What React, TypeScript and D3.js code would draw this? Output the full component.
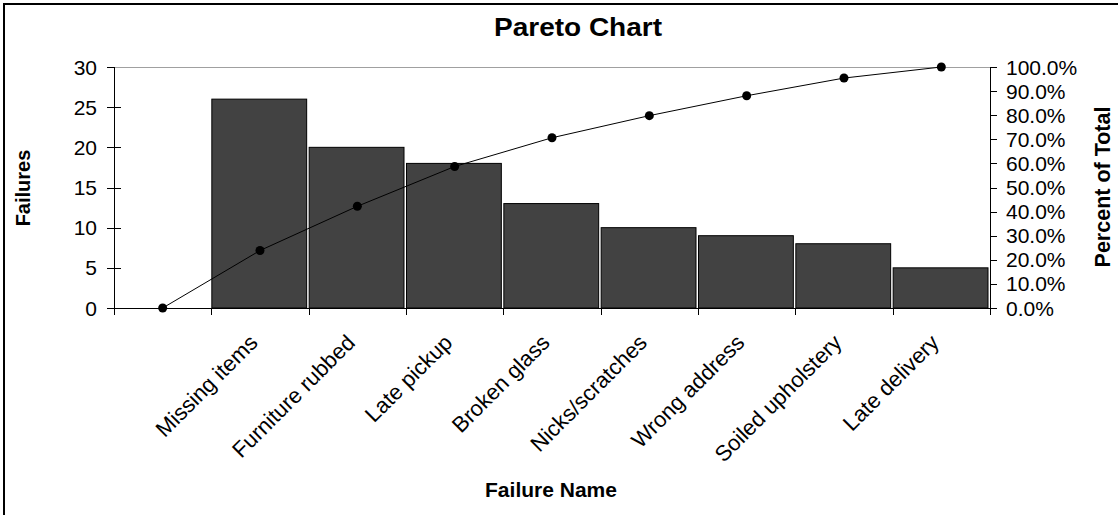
import React from "react";
import * as d3 from "d3";

const categories = ["Missing items", "Furniture rubbed", "Late pickup", "Broken glass", "Nicks/scratches", "Wrong address", "Soiled upholstery", "Late delivery"];
const failures = [26, 20, 18, 13, 10, 9, 8, 5];
const leftTicks = [0, 5, 10, 15, 20, 25, 30];
const rightTicks = [0, 0.1, 0.2, 0.3, 0.4, 0.5, 0.6, 0.7, 0.8, 0.9, 1.0];

const W = 1118, H = 515;
const FONT = "'Liberation Sans', Arial, sans-serif";

export default function App() {
  const domain = ["", ...categories];
  const x = d3.scaleBand<string>().domain(domain).range([114, 990]).padding(0);
  const yL = d3.scaleLinear().domain([0, 30]).range([308, 67]);
  const yR = d3.scaleLinear().domain([0, 1]).range([308, 67]);
  const total = d3.sum(failures);
  const cum = d3.cumsum(failures);
  const pts: [number, number][] = [[x("")! + x.bandwidth() / 2, yR(0)]];
  categories.forEach((c, i) => pts.push([x(c)! + x.bandwidth() / 2, yR(cum[i] / total)]));
  const line = d3.line<[number, number]>().x(d => d[0]).y(d => d[1]);
  const bw = x.bandwidth();
  const boundaries = d3.range(domain.length + 1).map(i => 114 + i * bw);
  const fmt = d3.format(".1%");

  return (
    <div style={{ position: "absolute", left: 0, top: 0 }}>
      <svg width={W} height={H} style={{ display: "block", fontFamily: FONT }}>
        <rect x={0} y={0} width={W} height={H} fill="#fff" />
        <path d={`M4,${H} V4 H${W}`} fill="none" stroke="#000" strokeWidth={2} />
        <text x={578} y={36} textAnchor="middle" fontSize={25} fontWeight="bold" textLength={168} lengthAdjust="spacingAndGlyphs">Pareto Chart</text>
        {/* top gridline */}
        <line x1={114} x2={990} y1={67.5} y2={67.5} stroke="#a0a0a0" strokeWidth={1} />
        {/* bars */}
        {categories.map((c, i) => (
          <rect key={c} x={x(c)! + 0.5} y={yL(failures[i])} width={bw - 2.5} height={yL(0) - yL(failures[i])}
            fill="#424242" stroke="#000" strokeWidth={1} />
        ))}
        {/* left axis */}
        <line x1={114.5} x2={114.5} y1={67} y2={308} stroke="#000" />
        {leftTicks.map(t => (
          <g key={t}>
            <line x1={107} x2={t === 30 ? 114 : 121} y1={Math.round(yL(t)) + 0.5} y2={Math.round(yL(t)) + 0.5} stroke="#000" />
            <text x={97} y={yL(t)} dy="0.36em" textAnchor="end" fontSize={21} fill="#000">{t}</text>
          </g>
        ))}
        {/* right axis */}
        <line x1={990.5} x2={990.5} y1={67} y2={308} stroke="#000" />
        {rightTicks.map(t => (
          <g key={t}>
            <line x1={990} x2={997} y1={Math.round(yR(t)) + 0.5} y2={Math.round(yR(t)) + 0.5} stroke="#000" />
            <text x={1006} y={yR(t)} dy="0.36em" textAnchor="start" fontSize={21} fill="#000">{fmt(t)}</text>
          </g>
        ))}
        {/* x axis */}
        <line x1={114} x2={991} y1={308.5} y2={308.5} stroke="#000" />
        {boundaries.map((b, i) => (
          <line key={i} x1={Math.round(b) + 0.5} x2={Math.round(b) + 0.5} y1={308} y2={315} stroke="#000" />
        ))}
        {categories.map(c => {
          const cx = x(c)! + bw / 2;
          return (
            <text key={c} transform={`translate(${cx - 1},${344}) rotate(-45)`} textAnchor="end" fontSize={22} fill="#000">{c}</text>
          );
        })}
        {/* cumulative line */}
        <path d={line(pts)!} fill="none" stroke="#000" strokeWidth={1} />
        {pts.map((p, i) => (
          <circle key={i} cx={p[0]} cy={p[1]} r={4.5} fill="#000" />
        ))}
        {/* axis titles */}
        <text transform={`translate(30,188) rotate(-90)`} textAnchor="middle" fontSize={20} fontWeight="bold">Failures</text>
        <text transform={`translate(1110,187) rotate(-90)`} textAnchor="middle" fontSize={21.5} fontWeight="bold">Percent of Total</text>
        <text x={551} y={497} textAnchor="middle" fontSize={21} fontWeight="bold">Failure Name</text>
      </svg>
    </div>
  );
}
